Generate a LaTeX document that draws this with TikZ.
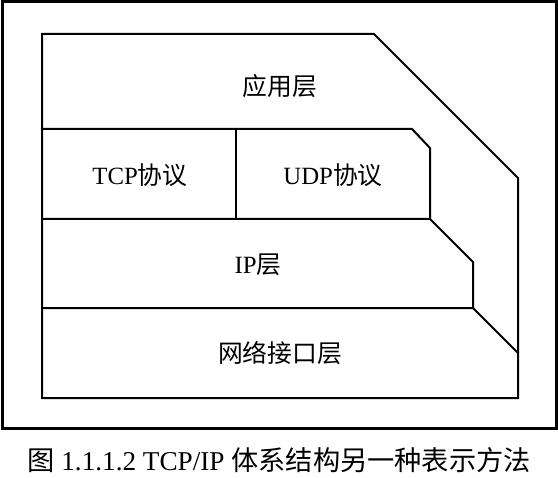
\documentclass[tikz,border=0pt]{standalone}
\usepackage{fontspec}
\setmainfont{Liberation Serif}
\newfontfamily\cjk{Noto Sans CJK SC}
\tikzset{
	layer/.style={line width=1.5pt, line join=miter},
	label/.style={font=\fontsize{18.6}{20}\selectfont, inner sep=0pt},
}
\begin{document}
\begin{tikzpicture}[x=0.75pt, y=-0.75pt]
	\useasboundingbox (0,0) rectangle (558,478);
	\draw[line width=2.25pt](2, 2) rectangle (556, 428);
	% outer contour of the layers
	\draw[layer](42, 34) -- (374, 34) -- (518, 178) -- (518, 398) -- (42, 398) -- cycle;
	\draw[layer](42, 129) -- (412, 129) -- (430, 148) -- (430, 219);
	\draw[layer](42, 219) -- (430, 219) -- (473, 262) -- (473, 308);
	\draw[layer](42, 308) -- (473, 308) -- (518, 353);
	\draw[layer](236, 129) -- (236, 219);
	\node[label] (app) at (280, 86) {\cjk 应用层};
	\node[label] (tcp) at (140, 175) {TCP\cjk 协议};
	\node[label] (udp) at (333, 175) {UDP\cjk 协议};
	\node[label] (ip) at (258, 265) {IP\cjk 层};
	\node[label] (net) at (280, 353) {\cjk 网络接口层};
	\node[font=\fontsize{20.4}{22}\selectfont, inner sep=0pt] (caption) at (279, 460) {{\cjk 图} 1.1.1.2 TCP/IP {\cjk 体系结构另一种表示方法}};
\end{tikzpicture}
\end{document}
